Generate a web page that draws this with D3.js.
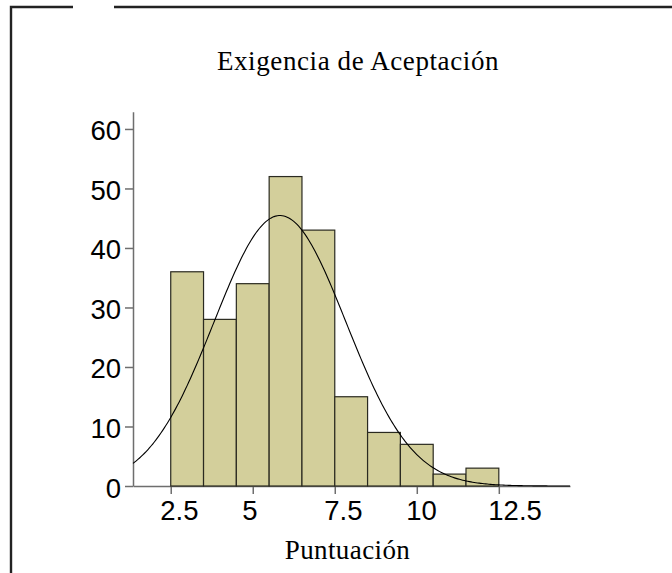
<!DOCTYPE html>
<html><head><meta charset="utf-8">
<script src="https://cdn.jsdelivr.net/npm/d3@7"></script>
<style>body{margin:0;background:#fff}svg{display:block}</style>
</head><body>
<svg id="c" width="672" height="573"></svg>
<script>
const binStarts = [2.5,3.5,4.5,5.5,6.5,7.5,8.5,9.5,10.5,11.5];
const binWidth = 1;
const counts = [36,28,34,52,43,15,9,7,2,3];
const xTicks = [2.5,5,7.5,10,12.5];
const yTicks = [0,10,20,30,40,50,60];
const fitMean = 5.83;
const fitSd = 2.01;
const title = "Exigencia de Aceptación";
const xLabel = "Puntuación";

const svg = d3.select("#c");
// frame
svg.append("path").attr("d","M11,573 L11,7 L73,7 M114,7 L672,7")
  .attr("fill","none").attr("stroke","#222").attr("stroke-width",2.4);

const x = d3.scaleLinear().domain([1.35,14.67]).range([133,570]);
const y = d3.scaleLinear().domain([0,62.9]).range([486,111.7]);

const axisColor = "#6e6e6e";
const sans = "'Liberation Sans', Arial, Helvetica, sans-serif";
const gx = svg.append("g").attr("transform","translate(0,486)")
  .call(d3.axisBottom(x).tickValues(xTicks).tickSize(8).tickPadding(6).tickSizeOuter(0).tickFormat(d=>String(d)));
const gy = svg.append("g").attr("transform","translate(133,0)")
  .call(d3.axisLeft(y).tickValues(yTicks).tickSize(8).tickPadding(4).tickSizeOuter(0));
[gx,gy].forEach(g=>{
  g.select(".domain").attr("stroke",axisColor).attr("stroke-width",1.5);
  g.selectAll(".tick line").attr("stroke",axisColor).attr("stroke-width",1.5);
  g.selectAll(".tick text").attr("fill","#000").style("font-family",sans).style("font-size","27.5px");
});
gx.selectAll(".tick text").attr("text-anchor","start").attr("x",-11);
gy.selectAll(".tick text").attr("dy","0.4em");

const N = d3.sum(counts);
svg.append("g").selectAll("rect").data(counts).join("rect")
  .attr("x",(d,i)=>x(binStarts[i]))
  .attr("width",(d,i)=>x(binStarts[i]+binWidth)-x(binStarts[i]))
  .attr("y",d=>y(d)).attr("height",d=>y(0)-y(d))
  .attr("fill","#d3cf9b").attr("stroke","#2a2a20").attr("stroke-width",1.2);

const xs = d3.range(1.35,14.67,0.05).concat([14.67]);
const dens = v => N*binWidth/(fitSd*Math.sqrt(2*Math.PI))*Math.exp(-0.5*((v-fitMean)/fitSd)**2);
svg.append("path").datum(xs)
  .attr("d",d3.line().x(v=>x(v)).y(v=>y(dens(v))))
  .attr("fill","none").attr("stroke","#000").attr("stroke-width",1.1);

const serif = "'Liberation Serif','Times New Roman',Times,serif";
svg.append("text").attr("x",358).attr("y",70).attr("text-anchor","middle")
  .style("font-family",serif).style("font-size","27px").style("letter-spacing","0.6px").text(title);
svg.append("text").attr("x",347.5).attr("y",559).attr("text-anchor","middle")
  .style("font-family",serif).style("font-size","27px").style("letter-spacing","0.4px").text(xLabel);
</script>
</body></html>
